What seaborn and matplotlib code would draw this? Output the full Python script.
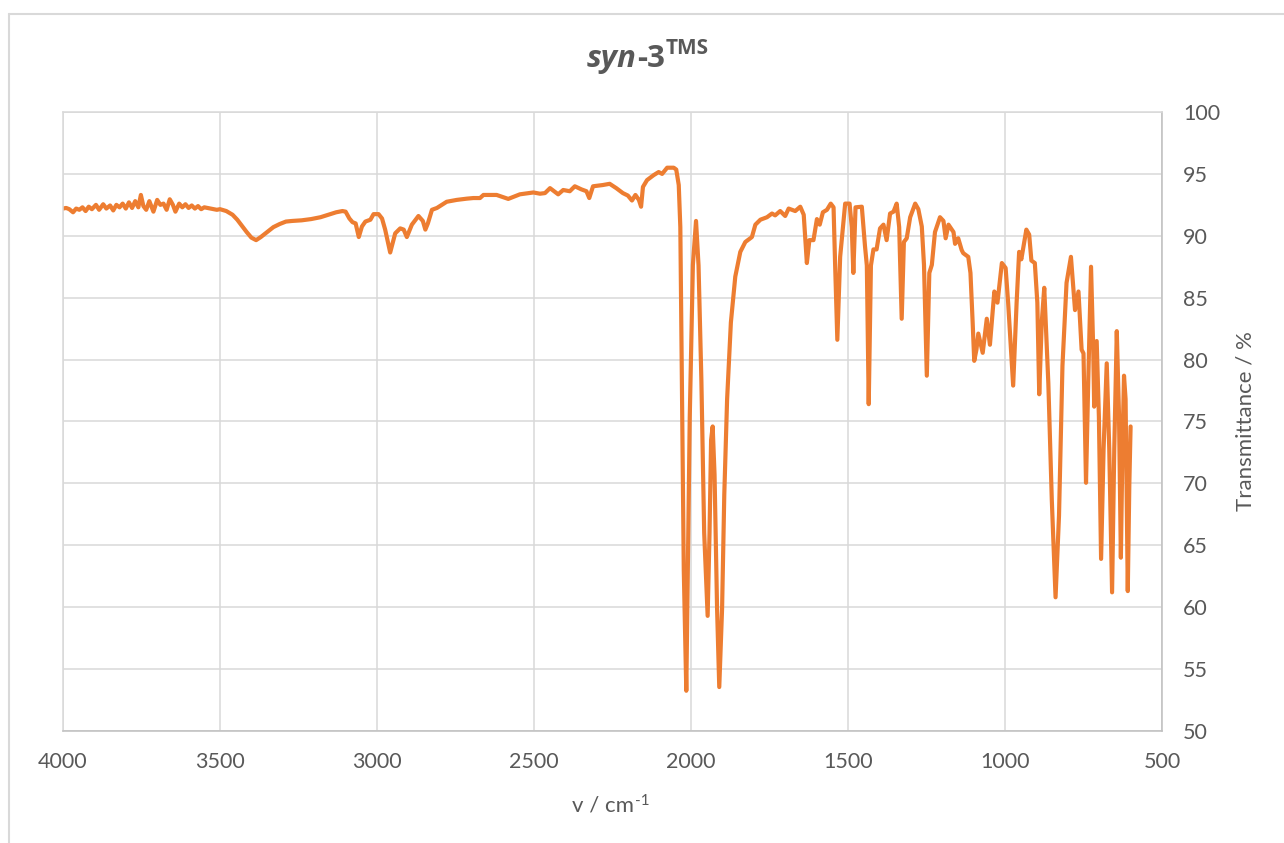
import numpy as np
import pandas as pd
import matplotlib
matplotlib.use("Agg")
import matplotlib.pyplot as plt
from matplotlib.lines import Line2D
import seaborn as sns

# ---------------- data ----------------
wavenumber = [
    4000, 3990, 3980, 3968, 3958, 3948, 3938, 3928, 3918, 3908, 3895, 3885, 3872, 3862, 3850,
    3840, 3830, 3820, 3810, 3800, 3790, 3780, 3770, 3760, 3752, 3744, 3735, 3725, 3712, 3700,
    3690, 3680, 3670, 3660, 3650, 3642, 3630, 3620, 3610, 3600, 3590, 3580, 3570, 3560, 3550,
    3530, 3510, 3500, 3480, 3460, 3445, 3430, 3415, 3400, 3385, 3370, 3350, 3330, 3310, 3290,
    3270, 3240, 3210, 3180, 3155, 3130, 3110, 3100, 3088, 3078, 3068, 3058, 3048, 3037, 3021,
    3011, 2995, 2984, 2974, 2958, 2942, 2926, 2915, 2905, 2889, 2868, 2854, 2846, 2838, 2825,
    2809, 2778, 2746, 2714, 2693, 2672, 2661, 2619, 2582, 2545, 2502, 2481, 2465, 2449, 2423,
    2407, 2386, 2370, 2349, 2333, 2324, 2312, 2281, 2259, 2238, 2217, 2201, 2188, 2177, 2166,
    2159, 2153, 2140, 2119, 2103, 2092, 2076, 2055, 2047, 2039, 2034, 2029, 2023, 2015, 2010,
    2004, 1994, 1984, 1976, 1967, 1958, 1947, 1941, 1936, 1931, 1925, 1917, 1910, 1901, 1894,
    1885, 1873, 1859, 1843, 1827, 1806, 1795, 1779, 1758, 1742, 1732, 1716, 1700, 1689, 1668,
    1652, 1641, 1636, 1631, 1623, 1610, 1599, 1590, 1580, 1567, 1555, 1546, 1541, 1534, 1525,
    1509, 1495, 1488, 1483, 1476, 1456, 1446, 1440, 1434, 1427, 1419, 1409, 1398, 1387, 1377,
    1366, 1355, 1345, 1337, 1329, 1322, 1313, 1302, 1286, 1276, 1265, 1258, 1249, 1241, 1233,
    1223, 1207, 1196, 1189, 1180, 1164, 1159, 1149, 1138, 1133, 1117, 1110, 1103, 1098, 1091,
    1085, 1071, 1058, 1048, 1034, 1024, 1010, 998, 990, 974, 963, 955, 948, 932, 923,
    916, 905, 897, 891, 883, 875, 862, 851, 839, 828, 817, 804, 790, 782, 777,
    766, 756, 750, 742, 735, 726, 719, 716, 708, 701, 694, 686, 676, 668, 659,
    652, 644, 637, 631, 626, 621, 616, 609, 604, 600,
]
transmittance = [
    92.2, 92.25, 92.15, 91.9, 92.2, 92.1, 92.3, 92.0, 92.35, 92.15, 92.5, 92.1, 92.55, 92.2, 92.45,
    92.05, 92.5, 92.3, 92.6, 92.2, 92.7, 92.25, 92.8, 92.3, 93.3, 92.4, 92.1, 92.8, 91.95, 92.9,
    92.5, 92.6, 92.1, 92.95, 92.5, 91.95, 92.6, 92.3, 92.55, 92.25, 92.45, 92.2, 92.4, 92.15, 92.3,
    92.2, 92.1, 92.15, 92.0, 91.7, 91.3, 90.8, 90.3, 89.85, 89.65, 89.9, 90.3, 90.7, 90.95, 91.15,
    91.2, 91.25, 91.35, 91.5, 91.7, 91.9, 92.0, 91.95, 91.4, 91.1, 91.0, 89.9, 90.75, 91.15, 91.3,
    91.75, 91.75, 91.4, 90.5, 88.65, 90.2, 90.6, 90.5, 89.9, 90.9, 91.6, 91.2, 90.5, 91.0, 92.1,
    92.25, 92.75, 92.9, 93.0, 93.05, 93.05, 93.3, 93.3, 92.98, 93.35, 93.5, 93.4, 93.45, 93.85, 93.35,
    93.7, 93.6, 94.0, 93.75, 93.6, 93.05, 94.0, 94.1, 94.2, 93.85, 93.45, 93.25, 92.85, 93.3, 92.9,
    92.35, 93.95, 94.5, 94.9, 95.15, 95.0, 95.5, 95.5, 95.35, 94.1, 90.7, 78.4, 63.0, 53.25, 63.0,
    75.3, 87.65, 91.2, 87.6, 78.4, 66.0, 59.3, 66.0, 73.5, 74.6, 70.7, 59.9, 53.55, 59.9, 69.1,
    76.8, 83.0, 86.7, 88.7, 89.5, 89.9, 90.9, 91.3, 91.5, 91.8, 91.65, 92.0, 91.6, 92.2, 92.0,
    92.35, 91.7, 89.8, 87.8, 89.65, 89.65, 91.35, 90.9, 91.9, 92.1, 92.6, 92.3, 87.65, 81.6, 88.3,
    92.6, 92.6, 90.7, 87.0, 92.3, 92.35, 89.2, 87.6, 76.4, 87.6, 88.9, 88.9, 90.6, 90.9, 89.65,
    91.8, 91.95, 92.6, 90.7, 83.3, 89.5, 89.8, 91.5, 92.6, 92.15, 90.75, 87.65, 78.7, 87.0, 87.65,
    90.3, 91.5, 91.2, 89.8, 90.9, 90.3, 89.35, 89.8, 88.85, 88.6, 88.3, 87.0, 83.0, 79.9, 80.8,
    82.1, 80.55, 83.3, 81.2, 85.5, 84.6, 87.8, 87.4, 84.6, 77.9, 84.6, 88.7, 88.1, 90.5, 90.1,
    88.0, 87.8, 84.6, 77.2, 83.0, 85.8, 78.1, 68.7, 60.8, 67.4, 79.5, 86.2, 88.3, 85.6, 84.0,
    85.5, 80.8, 80.5, 70.05, 78.1, 87.5, 80.8, 76.2, 81.5, 75.4, 63.9, 72.8, 79.7, 72.8, 61.2,
    72.8, 82.3, 75.6, 64.0, 72.8, 78.7, 76.8, 61.3, 70.0, 74.6,
]
x_ticks = [4000, 3500, 3000, 2500, 2000, 1500, 1000, 500]
y_ticks = [50, 55, 60, 65, 70, 75, 80, 85, 90, 95, 100]
title_main = "syn"
title_num = "-3"
title_sup = "TMS"
x_label_main = "v / cm"
x_label_sup = "-1"
y_label = "Transmittance / %"

# ---------------- style ----------------
sns.set_theme(style="white")
FONT = ["Lato", "DejaVu Sans"]
TITLE_FONT = ["Open Sans", "Liberation Sans", "DejaVu Sans"]
plt.rcParams["font.family"] = FONT
TXT = "#595959"
GRID = "#D9D9D9"
AXC = "#BFBFBF"
LINE = "#ED7D31"

W, H = 1284, 843
fig = plt.figure(figsize=(W / 100, H / 100), dpi=100)
fig.patch.set_facecolor("white")

L, R, T, B = 63, 1162, 112, 731
ax = fig.add_axes([L / W, 1 - B / H, (R - L) / W, (B - T) / H])

df = pd.DataFrame({"wavenumber": wavenumber, "transmittance": transmittance})
sns.lineplot(data=df, x="wavenumber", y="transmittance", ax=ax, color=LINE,
             linewidth=3.0, sort=False, estimator=None, legend=False)

ax.set_xlim(4000, 500)
ax.set_ylim(50, 100)
ax.set_xticks(x_ticks)
ax.set_yticks(y_ticks)
ax.set_xticklabels([str(v) for v in x_ticks])
ax.set_yticklabels([str(v) for v in y_ticks])
ax.yaxis.tick_right()
ax.grid(True, color=GRID, linewidth=1.1)
ax.set_axisbelow(True)
ax.set_xlabel("")
ax.set_ylabel("")
for s in ["left", "top"]:
    ax.spines[s].set_color(GRID)
    ax.spines[s].set_linewidth(1.1)
for s in ["bottom", "right"]:
    ax.spines[s].set_color(AXC)
    ax.spines[s].set_linewidth(1.1)
ax.tick_params(axis="both", length=0, labelsize=15.5, labelcolor=TXT)
ax.tick_params(axis="x", pad=15)
ax.tick_params(axis="y", pad=15)

# axis titles
xl = fig.text(572 / W, 1 - 812 / H, x_label_main, ha="left", va="baseline",
              fontsize=16, color=TXT)
ax.annotate(x_label_sup, xy=(1, 0), xycoords=xl, xytext=(0.5, 6),
            textcoords="offset points", ha="left", va="bottom",
            fontsize=11, color=TXT, annotation_clip=False)
fig.text(1246 / W, 1 - 421 / H, y_label, ha="center", va="center",
         rotation=90, fontsize=16, color=TXT)

# chart title: bold italic "syn", bold upright "-3", superscript bold "TMS"
t1 = fig.text(587 / W, 1 - 67 / H, title_main, ha="left", va="baseline",
              fontsize=22.5, weight="bold", style="italic", color=TXT,
              family=TITLE_FONT)
t2 = ax.annotate(title_num, xy=(1, 0), xycoords=t1, xytext=(0, 0),
                 textcoords="offset points", ha="left", va="bottom",
                 fontsize=22.5, weight="bold", style="normal", color=TXT,
                 family=TITLE_FONT, annotation_clip=False)
t3 = ax.annotate(title_sup, xy=(1, 0), xycoords=t2, xytext=(0.5, 10.5),
                 textcoords="offset points", ha="left", va="bottom",
                 fontsize=15, weight="bold", style="normal", color=TXT,
                 family=TITLE_FONT, annotation_clip=False)

# outer chart border (clipped on right / bottom as in the reference)
fig.add_artist(Line2D([9 / W, 9 / W], [0, 1 - 14 / H], color=GRID, lw=1.5,
                      transform=fig.transFigure))
fig.add_artist(Line2D([9 / W, 1], [1 - 14 / H, 1 - 14 / H], color=GRID, lw=1.5,
                      transform=fig.transFigure))

fig.savefig("out.png", dpi=100, facecolor="white")
